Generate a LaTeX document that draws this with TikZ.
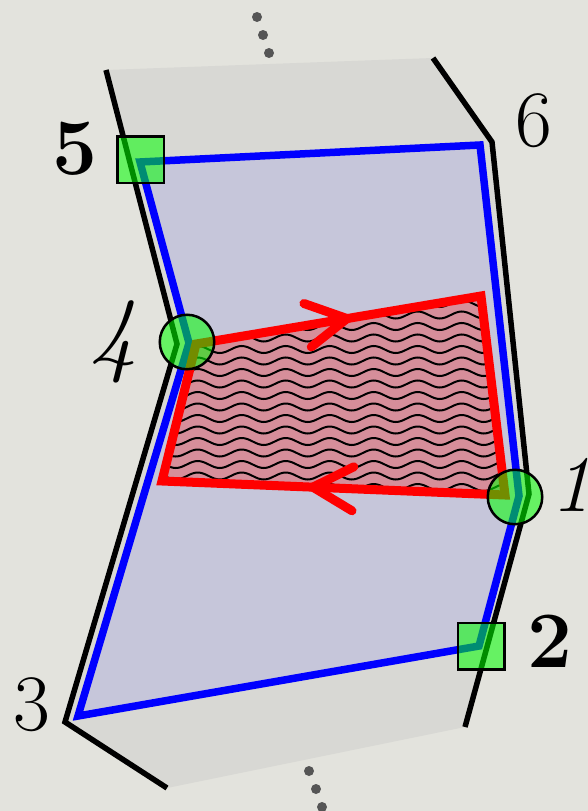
\documentclass[tikz,border=0pt]{standalone}
\usepackage{fontspec}
\usepackage{tikz}
\usetikzlibrary{decorations.pathmorphing,decorations.markings}
\definecolor{paper}{RGB}{227,227,221}
\definecolor{band}{RGB}{216,216,212}
\definecolor{lav}{RGB}{198,198,218}
\definecolor{rosy}{RGB}{214,142,154}
\definecolor{dotgrey}{RGB}{85,85,85}

\begin{document}
\begin{tikzpicture}[
    x=1pt, y=-1pt,
    edge/.style={line width=5.5pt, black, line join=miter},
    bluepath/.style={line width=7.5pt, blue, line join=miter},
    redloop/.style={line width=9pt, red, line join=miter},
    vsquare/.style={rectangle, draw=black, line width=2.5pt, fill=green,
        fill opacity=0.55, minimum size=46.5pt, inner sep=0pt},
    vcircle/.style={circle, draw=black, line width=2.5pt, fill=green,
        fill opacity=0.55, minimum size=54.5pt, inner sep=0pt},
    num/.style={font=\fontsize{80}{80}\selectfont, inner sep=0pt},
    wave/.style={line width=2pt, black, decorate,
        decoration={snake, segment length=44pt, amplitude=3.5pt}},
    barb/.style={postaction={decorate}, decoration={markings,
        mark=at position #1 with {\draw[redloop, line cap=round]
            (-40pt,22pt) -- (0pt,0pt) -- (-40pt,-22pt);}}}
]

% Papier
\fill[paper] (0,0) rectangle (588,811);
\useasboundingbox (0,0) rectangle (588,811);

% Randpunkte
\coordinate (l0) at (106,70);
\coordinate (l4) at (177,344);
\coordinate (l3) at (65,722);
\coordinate (l7) at (167,788);
\coordinate (r0) at (433,58);
\coordinate (r6) at (492,142);
\coordinate (r1) at (529,494);
\coordinate (r2) at (465,727);

% Ecken des blauen Wegs
\coordinate (p5) at (140,162);
\coordinate (p6) at (480,145);
\coordinate (p1) at (519,496);
\coordinate (p2) at (479,646);
\coordinate (p3) at (78,716);
\coordinate (p4) at (189,343);

% Ecken der roten Schleife
\coordinate (q4) at (196,344);
\coordinate (qa) at (481,296);
\coordinate (qb) at (505,495);
\coordinate (qc) at (162,481);

% Band
\fill[band] (l0) -- (r0) -- (r6) -- (r1) -- (r2) -- (l7) -- (l3) -- (l4) -- cycle;

% Blaue Flaeche
\fill[lav] (p5) -- (p6) -- (p1) -- (p2) -- (p3) -- (p4) -- cycle;

% Raender
\draw[edge] (l0) -- (l4) -- (l3) -- (l7);
\draw[edge] (r0) -- (r6) -- (r1) -- (r2);

% Blauer Weg
\draw[bluepath] (p5) -- (p6) -- (p1) -- (p2) -- (p3) -- (p4) -- cycle;

% Rote Schleife mit Wellen
\fill[rosy] (q4) -- (qa) -- (qb) -- (qc) -- cycle;
\begin{scope}
    \clip (q4) -- (qa) -- (qb) -- (qc) -- cycle;
    \foreach \yy in {292,303.5,...,500}
        \draw[wave] (140,\yy) -- (530,\yy);
\end{scope}
\draw[redloop] (q4) -- (qa) -- (qb) -- (qc) -- cycle;
\path[barb=0.53] (q4) -- (qa);
\path[barb=0.56] (qb) -- (qc);

% Marken
\node[vsquare] (m5) at (140.5,159.5) {};
\node[vsquare] (m2) at (481,646) {};
\node[vcircle] (m4) at (187,342) {};
\node[vcircle] (m1) at (515,497) {};

% Nummern
\node[num] (n5) at (75,149) {\bfseries 5};
\node[num] (n6) at (534,121) {6};
\node[num, font=\fontsize{96}{96}\selectfont\itshape] (n4) at (113,342) {4};
\node[num, font=\fontsize{80}{80}\selectfont\itshape] (n1) at (571,485) {1};
\node[num] (n2) at (550,641) {\bfseries 2};
\node[num] (n3) at (32,705) {3};

% Punkte
\foreach \px/\py in {257/17, 263/35, 269/53, 309/771, 316/789, 322/807}
    \fill[dotgrey] (\px,\py) circle (5pt);

\end{tikzpicture}
\end{document}
